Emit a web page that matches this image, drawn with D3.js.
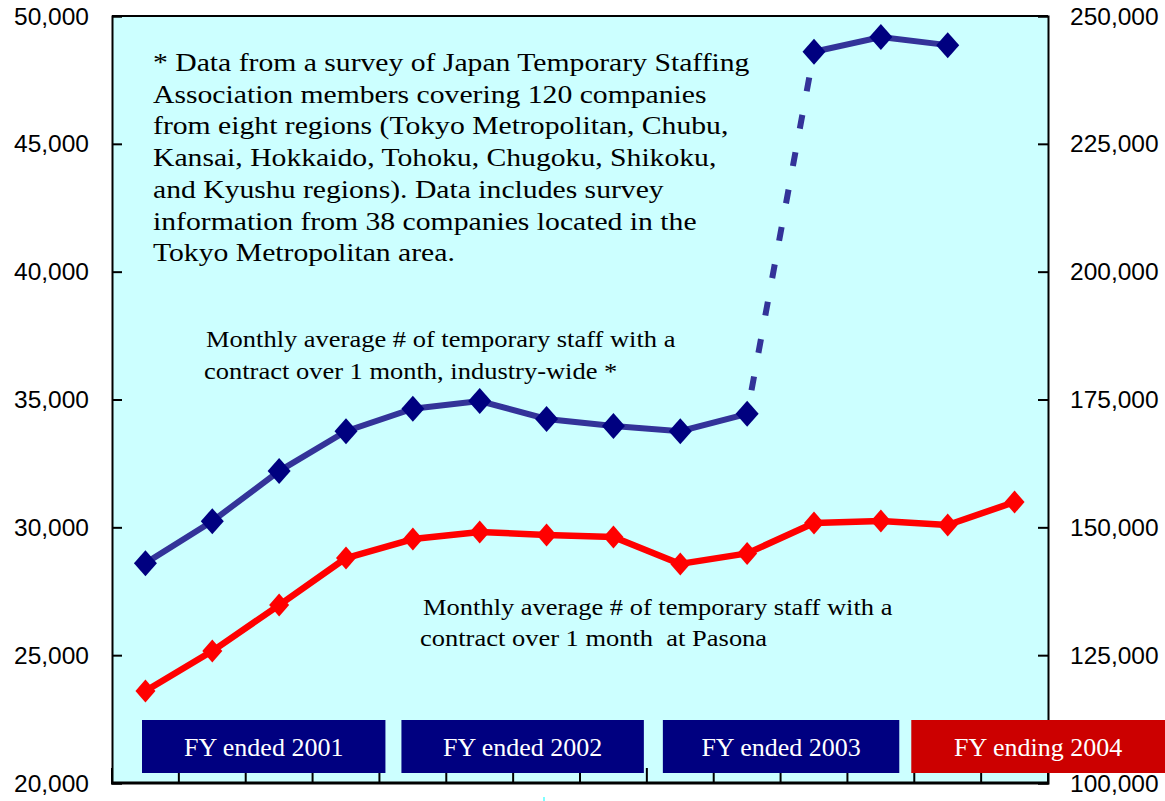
<!DOCTYPE html>
<html>
<head>
<meta charset="utf-8">
<script src="https://cdn.jsdelivr.net/npm/d3@7"></script>
<style>
  body { margin: 0; background: #ffffff; }
  svg { display: block; }
</style>
</head>
<body>
<svg id="chart" width="1165" height="801"></svg>
<script>
// quarters (fiscal year, quarter) - 14 points
let quarters = ['01Q1','01Q2','01Q3','01Q4','02Q1','02Q2','02Q3','02Q4',
                '03Q1','03Q2','03Q3','03Q4','04Q1','04Q2'];

// industry-wide (right axis) - survey widened after the 10th quarter
let industryStaff = [143000, 151200, 161000, 168800, 173200, 174700, 171200,
                     169800, 168800, 172200, 243000, 245900, 244300];

// Pasona (left axis)
let pasonaStaff = [23600, 25160, 26960, 28800, 29540, 29820, 29700,
                   29620, 28570, 28980, 30170, 30250, 30090, 30990];

let leftTicks = [20000, 25000, 30000, 35000, 40000, 45000, 50000];
let rightTicks = [100000, 125000, 150000, 175000, 200000, 225000, 250000];

let fiscalYears = ['FY ended 2001', 'FY ended 2002', 'FY ended 2003', 'FY ending 2004'];
let fiscalFirstQ = [0, 4, 8, 12];
let fiscalLastQ = [3, 7, 11, 13];

let noteLines = [
    '* Data from a survey of Japan Temporary Staffing',
    'Association members covering 120 companies',
    'from eight regions (Tokyo Metropolitan, Chubu,',
    'Kansai, Hokkaido, Tohoku, Chugoku, Shikoku,',
    'and Kyushu regions). Data includes survey',
    'information from 38 companies located in the',
    'Tokyo Metropolitan area.'
];
let industryLabel = ['Monthly average # of temporary staff with a',
                     'contract over 1 month, industry-wide *'];
let pasonaLabel = ['Monthly average # of temporary staff with a',
                   'contract over 1 month  at Pasona'];

// layout
let margL = 112;
let margR = 1048;
let margT = 16;
let margB = 783;
let numFont = '"Liberation Sans", Arial, sans-serif';
let serifFont = '"Liberation Serif", "Times New Roman", serif';

let svg = d3.select('#chart');

// scales
let xScale = d3.scaleBand()
                .domain(quarters)
                .range([margL, margR]);
let yLeft = d3.scaleLinear()
                .domain([20000, 50000])
                .range([margB, margT]);
let yRight = d3.scaleLinear()
                .domain([100000, 250000])
                .range([margB, margT]);
let cx = function(i){ return xScale(quarters[i]) + xScale.bandwidth() / 2; };

// plot background
svg.append('rect')
    .attr('x', margL)
    .attr('y', margT)
    .attr('width', margR - margL)
    .attr('height', margB - margT)
    .attr('fill', '#ccffff');

// axes
let leftAxis = d3.axisRight(yLeft)
                .tickValues(leftTicks)
                .tickSize(10)
                .tickFormat('');
svg.append('g')
    .attr('transform', 'translate(' + margL + ',0)')
    .call(leftAxis)
    .call(g => g.selectAll('line, path').attr('stroke', '#000').attr('stroke-width', 2));

let rightAxis = d3.axisLeft(yRight)
                .tickValues(rightTicks)
                .tickSize(10)
                .tickFormat('');
svg.append('g')
    .attr('transform', 'translate(' + margR + ',0)')
    .call(rightAxis)
    .call(g => g.selectAll('line, path').attr('stroke', '#000').attr('stroke-width', 2));

// x axis ticks on band edges
let xEdges = quarters.map((q, i) => xScale(q)).concat([margR]);
svg.append('g')
    .selectAll('line')
    .data(xEdges)
    .enter()
    .append('line')
    .attr('x1', d => d)
    .attr('x2', d => d)
    .attr('y1', margB - 15)
    .attr('y2', margB)
    .attr('stroke', '#000')
    .attr('stroke-width', 2);

// top + bottom frame
svg.append('line')
    .attr('x1', margL).attr('x2', margR)
    .attr('y1', margT).attr('y2', margT)
    .attr('stroke', '#000').attr('stroke-width', 2);
svg.append('line')
    .attr('x1', margL - 1).attr('x2', margR + 1)
    .attr('y1', margB).attr('y2', margB)
    .attr('stroke', '#000').attr('stroke-width', 3);

// tick labels
svg.append('g')
    .selectAll('text')
    .data(leftTicks)
    .enter()
    .append('text')
    .attr('x', 89)
    .attr('y', d => yLeft(d))
    .attr('dy', '0.35em')
    .attr('text-anchor', 'end')
    .style('font-family', numFont)
    .style('font-size', '24.5px')
    .text(d => d3.format(',')(d));

svg.append('g')
    .selectAll('text')
    .data(rightTicks)
    .enter()
    .append('text')
    .attr('x', 1070)
    .attr('y', d => yRight(d))
    .attr('dy', '0.35em')
    .attr('text-anchor', 'start')
    .style('font-family', numFont)
    .style('font-size', '24.5px')
    .text(d => d3.format(',')(d));

// lines
let pasonaLine = d3.line()
                    .x((d, i) => cx(i))
                    .y(d => yLeft(d));

let industryPts = industryStaff.map((v, i) => [cx(i), yRight(v)]);
let segLine = d3.line();

svg.append('path')
    .attr('d', segLine(industryPts.slice(0, 10)))
    .attr('fill', 'none')
    .attr('stroke', '#333399')
    .attr('stroke-width', 6);
svg.append('path')
    .attr('d', segLine(industryPts.slice(9, 11)))
    .attr('fill', 'none')
    .attr('stroke', '#333399')
    .attr('stroke-width', 6)
    .attr('stroke-dasharray', '14,24')
    .attr('stroke-dashoffset', -24);
svg.append('path')
    .attr('d', segLine(industryPts.slice(10)))
    .attr('fill', 'none')
    .attr('stroke', '#333399')
    .attr('stroke-width', 6);

svg.append('path')
    .datum(pasonaStaff)
    .attr('d', pasonaLine)
    .attr('fill', 'none')
    .attr('stroke', '#ff0000')
    .attr('stroke-width', 6.5)
    .attr('stroke-linejoin', 'round');

// diamond markers
let diamond = function(w, h){
    return 'M0,' + (-h) + 'L' + w + ',0L0,' + h + 'L' + (-w) + ',0Z';
};
svg.append('g')
    .selectAll('path')
    .data(industryStaff)
    .enter()
    .append('path')
    .attr('transform', (d, i) => 'translate(' + cx(i) + ',' + yRight(d) + ')')
    .attr('d', diamond(11.5, 13))
    .attr('fill', '#000080');

svg.append('g')
    .selectAll('path')
    .data(pasonaStaff)
    .enter()
    .append('path')
    .attr('transform', (d, i) => 'translate(' + cx(i) + ',' + yLeft(d) + ')')
    .attr('d', diamond(10, 11.5))
    .attr('fill', '#ff0000');

// text block helper - the source text is a little stretched sideways
function textBlock(lines, xs, y0, step, size, sx){
    svg.append('g')
        .selectAll('text')
        .data(lines)
        .enter()
        .append('text')
        .attr('transform', (d, i) => 'translate(' + xs[i] + ',' + (y0 + i * step) + ') scale(' + sx + ',1)')
        .style('font-family', serifFont)
        .style('font-size', size + 'px')
        .style('white-space', 'pre')
        .attr('fill', '#000')
        .text(d => d);
}

// survey note
textBlock(noteLines, noteLines.map(() => 153), 71, 31.7, 25, 1.187);

// series labels
textBlock(industryLabel, [206, 204], 347, 32, 24, 1.104);
textBlock(pasonaLabel, [423, 420], 615, 31, 24, 1.104);

// fiscal year boxes (offsets from the quarter band edges)
let boxPadL = [30, 22, 16, -3];
let boxPadR = [6, -3, -15, 117];
let boxColors = ['#000080', '#000080', '#000080', '#cc0000'];
let boxGrp = svg.append('g');
fiscalYears.forEach(function(fy, i){
    let x0 = xScale(quarters[fiscalFirstQ[i]]) + boxPadL[i];
    let x1 = xScale(quarters[fiscalLastQ[i]]) + xScale.bandwidth() + boxPadR[i];
    boxGrp.append('rect')
        .attr('x', x0)
        .attr('y', 720)
        .attr('width', x1 - x0)
        .attr('height', 53)
        .attr('fill', boxColors[i]);
    boxGrp.append('text')
        .attr('x', (x0 + Math.min(x1, 1165)) / 2)
        .attr('y', 756)
        .attr('text-anchor', 'middle')
        .style('font-family', serifFont)
        .style('font-size', '26px')
        .attr('fill', '#ffffff')
        .text(fy);
});

// stray cyan mark under the axis
svg.append('line')
    .attr('x1', 544).attr('x2', 544)
    .attr('y1', 797).attr('y2', 801)
    .attr('stroke', '#00ffff')
    .attr('stroke-width', 1);
</script>
</body>
</html>
